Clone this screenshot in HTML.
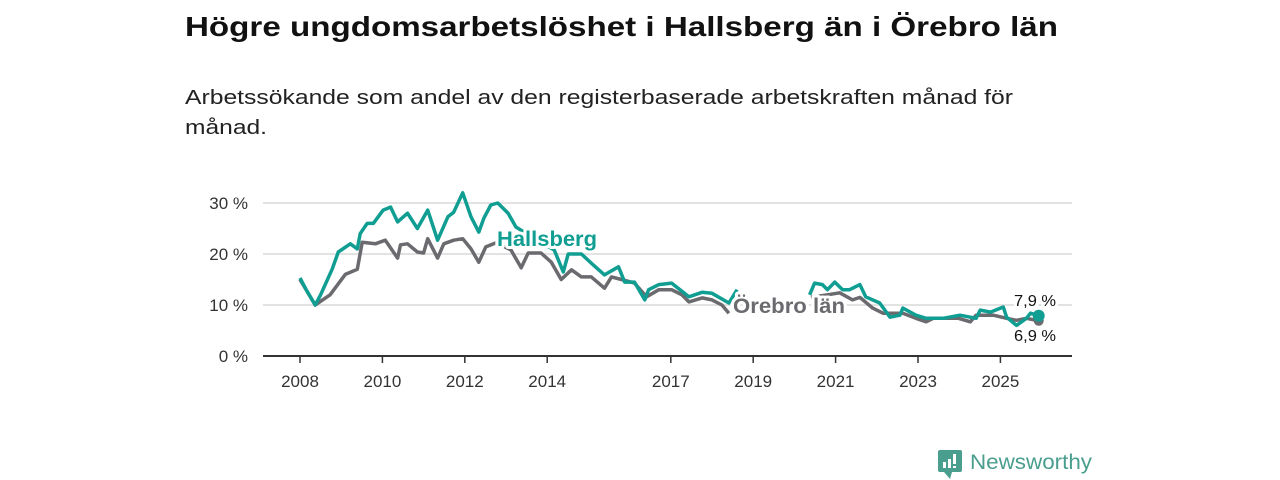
<!DOCTYPE html>
<html><head><meta charset="utf-8"><style>
body{margin:0;background:#fff;}
svg{display:block;font-family:"Liberation Sans",sans-serif;}
</style></head><body>
<svg id="chart" width="1280" height="480">
<text x="185" y="36" font-size="28" font-weight="bold" fill="#111" textLength="873" lengthAdjust="spacingAndGlyphs">Högre ungdomsarbetslöshet i Hallsberg än i Örebro län</text>
<text x="185" y="104" font-size="20" fill="#222" textLength="828" lengthAdjust="spacingAndGlyphs">Arbetssökande som andel av den registerbaserade arbetskraften månad för</text>
<text x="185" y="134" font-size="20" fill="#222" textLength="82" lengthAdjust="spacingAndGlyphs">månad.</text>
<g id="grid"></g><g id="axes"></g><g id="series"></g><g id="labels"></g>
<g>
<rect x="938" y="450" width="24" height="22" rx="2" fill="#4a9e8e"/>
<path d="M944 472 L950 479 L952 472 Z" fill="#4a9e8e"/>
<rect x="943" y="462" width="3" height="6" fill="#fff"/><rect x="948" y="459" width="3" height="9" fill="#fff"/><rect x="953" y="454" width="3" height="10" fill="#fff"/><rect x="953" y="466" width="3" height="2" fill="#fff"/>
<text x="970" y="469" font-size="21" fill="#4a9e8e" textLength="122" lengthAdjust="spacingAndGlyphs">Newsworthy</text>
</g>
</svg>
<script>
const yTicks=[0,10,20,30];
const xTicks=[2008,2010,2012,2014,2017,2019,2021,2023,2025];
const hDates=[2008.0,2008.15,2008.37,2008.5,2008.78,2008.93,2009.22,2009.39,2009.46,2009.63,2009.78,2010.02,2010.2,2010.37,2010.61,2010.85,2011.1,2011.34,2011.59,2011.73,2011.95,2012.15,2012.34,2012.46,2012.63,2012.8,2013.05,2013.24,2013.5,2013.9,2014.17,2014.39,2014.51,2014.83,2015.07,2015.39,2015.73,2015.88,2016.12,2016.37,2016.46,2016.71,2017.02,2017.44,2017.76,2018.0,2018.41,2018.61,2019.5,2020.37,2020.49,2020.68,2020.8,2020.98,2021.17,2021.34,2021.59,2021.73,2022.07,2022.32,2022.56,2022.63,2022.95,2023.2,2023.61,2024.02,2024.41,2024.51,2024.76,2025.07,2025.15,2025.39,2025.63,2025.73,2025.93];
const hVals=[15.3,13,10,12,17,20.4,22,21,24,26,26,28.6,29.2,26.3,28,25,28.6,22.7,27.3,28.2,32,27.3,24.3,27,29.6,30,28,25.3,24,22,20.8,16.5,20,20,18.2,15.9,17.5,14.5,14.5,11,13,14,14.3,11.6,12.5,12.3,10.4,13,null,12,14.3,14,13,14.5,13,13,14,11.6,10.4,7.6,8,9.4,8,7.4,7.4,8,7.4,9,8.6,9.6,7.6,6,7.4,8.4,7.9];
const oDates=[2008.0,2008.37,2008.73,2009.1,2009.39,2009.51,2009.83,2010.07,2010.37,2010.44,2010.61,2010.85,2011.0,2011.1,2011.34,2011.49,2011.73,2011.95,2012.15,2012.34,2012.51,2012.76,2013.12,2013.37,2013.54,2013.85,2014.1,2014.34,2014.59,2014.83,2015.07,2015.39,2015.56,2015.8,2016.12,2016.41,2016.71,2017.02,2017.27,2017.44,2017.76,2018.0,2018.24,2018.41,2019.5,2020.4,2020.8,2021.1,2021.41,2021.59,2021.9,2022.15,2022.39,2022.63,2022.95,2023.2,2023.37,2023.61,2023.98,2024.27,2024.41,2024.83,2025.15,2025.39,2025.63,2025.93];
const oVals=[15,10,12,16,17,22.3,22,22.7,19.2,21.8,22,20.4,20.2,23,19.2,22,22.7,23,21,18.4,21.4,22.2,20.8,17.3,20.2,20.2,18.4,15,16.9,15.5,15.5,13.3,15.5,15,14.3,11.6,13,13,12,10.6,11.4,11,10,8.4,null,11.5,12,12.4,11,11.5,9.4,8.4,8.4,8.4,7.4,6.7,7.4,7.4,7.4,6.7,8,8,7.4,7,7.4,6.9];
const NS='http://www.w3.org/2000/svg';
const x=v=>300+(v-2008)*41.2;
const y=v=>356-v*5.1;
function mk(tag,attrs,parent){const e=document.createElementNS(NS,tag);for(const k in attrs)e.setAttribute(k,attrs[k]);parent.appendChild(e);return e;}
const grid=document.getElementById('grid'),axes=document.getElementById('axes'),series=document.getElementById('series'),labels=document.getElementById('labels');
yTicks.forEach(t=>{
 if(t>0){const l=mk('line',{x1:263,x2:1072,y1:y(t),y2:y(t),stroke:'#d9d9d9','stroke-width':1.5},grid);
 
 }
 const tx=mk('text',{x:248,y:y(t)+6,'font-size':17,fill:'#333','text-anchor':'end'},axes);
 tx.textContent=t+' %';
 
 
});
const ax=mk('line',{x1:263,x2:1072,y1:356,y2:356,stroke:'#333','stroke-width':2},axes);


xTicks.forEach(t=>{
 mk('line',{x1:x(t),x2:x(t),y1:356,y2:363,stroke:'#333','stroke-width':1.5},axes);
 const tx=mk('text',{x:x(t),y:387,'font-size':17,fill:'#333','text-anchor':'middle'},axes);
 tx.textContent=t;
 
 
});
function path(ds,vs){let d='',pen=false;ds.forEach((dt,i)=>{const v=vs[i];if(v==null){pen=false;return;}d+=(pen?'L':'M')+x(dt).toFixed(1)+' '+y(v).toFixed(1)+' ';pen=true;});return d;}
const po=mk('path',{d:path(oDates,oVals),fill:'none',stroke:'#6b6a6e','stroke-width':3.5,'stroke-linejoin':'round'},series);


const ph=mk('path',{d:path(hDates,hVals),fill:'none',stroke:'#109e92','stroke-width':3.5,'stroke-linejoin':'round'},series);


const co=mk('circle',{cx:x(oDates[oDates.length-1]),cy:y(oVals[oVals.length-1]),r:5,fill:'#6b6a6e'},series);


const ch=mk('circle',{cx:x(hDates[hDates.length-1]),cy:y(hVals[hVals.length-1]),r:6,fill:'#109e92'},series);


function lab(t,xx,yy,fs,fill,bold,name,len){const e=mk('text',{x:xx,y:yy,'font-size':fs,fill:fill,'font-weight':bold?'bold':'normal',stroke:'#fff','stroke-width':6,'paint-order':'stroke','stroke-linejoin':'round'},labels);
if(len){e.setAttribute('textLength',len);e.setAttribute('lengthAdjust','spacingAndGlyphs');}
e.textContent=t;

return e;}
lab('Hallsberg',497,246,21,'#109e92',true,'hallsberg-label',100);
lab('Örebro län',733,313,21,'#6b6a6e',true,'orebro-label',112);
lab(hVals[hVals.length-1].toFixed(1).replace('.',',')+' %',1014,306,16,'#111',false,'hallsberg-end-value',42);
lab(oVals[oVals.length-1].toFixed(1).replace('.',',')+' %',1014,341,16,'#111',false,'orebro-end-value',42);
</script>
</body></html>
